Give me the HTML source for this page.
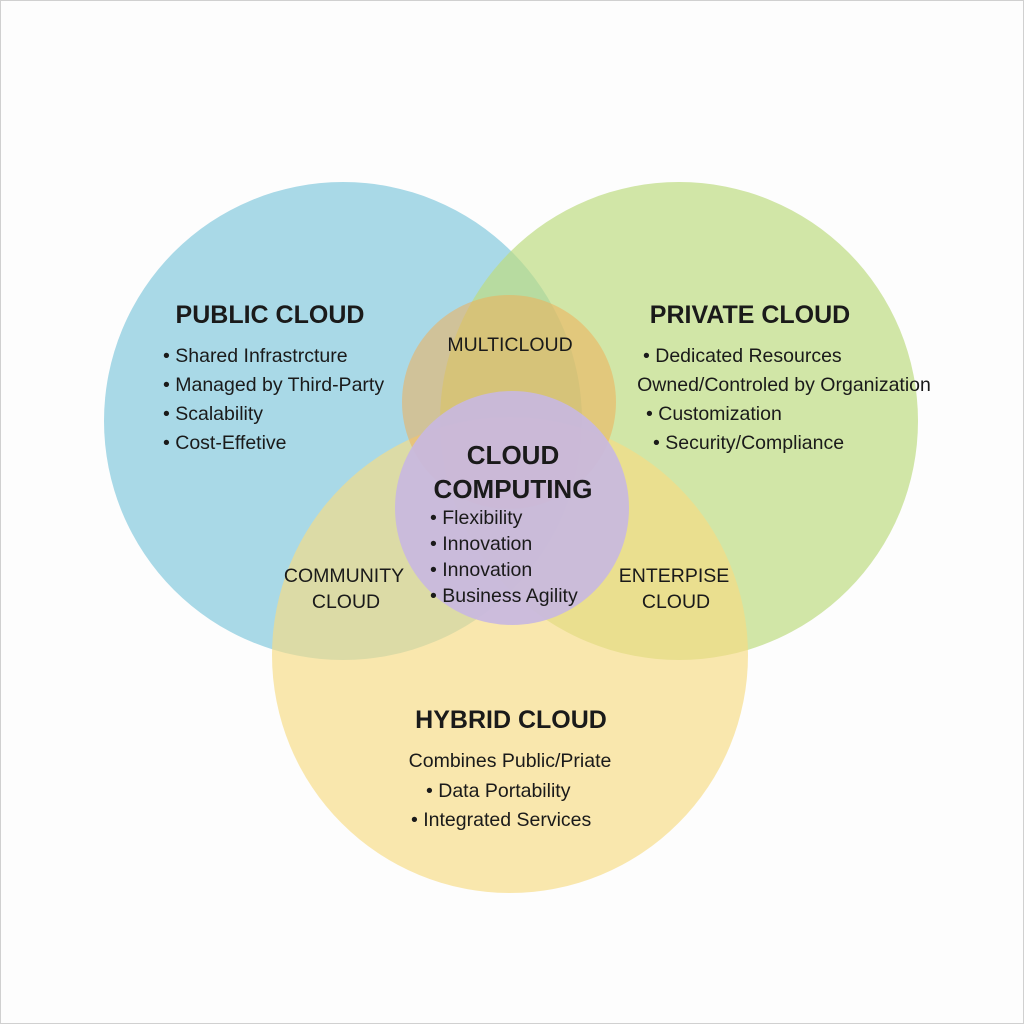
<!DOCTYPE html>
<html><head><style>
body{margin:0;background:#fff}
svg{display:block}
text{font-family:"Liberation Sans",sans-serif;fill:#1a1a1a}
</style></head><body>
<svg width="1024" height="1024" viewBox="0 0 1024 1024">
<rect x="0.5" y="0.5" width="1023" height="1023" fill="#fdfdfd" stroke="#d0d0d0"/>
<circle cx="343" cy="421" r="239" fill="#a9d9e7"/>
<circle cx="679" cy="421" r="239" fill="rgb(190,220,130)" fill-opacity="0.7"/>
<circle cx="510" cy="655" r="238" fill="rgb(248,220,130)" fill-opacity="0.65"/>
<circle cx="509" cy="402" r="107" fill="rgb(240,175,90)" fill-opacity="0.55"/>
<circle cx="512" cy="508" r="117" fill="rgb(200,184,224)" fill-opacity="0.92"/>
<g font-size="19.5">
<text x="270" y="323" text-anchor="middle" font-size="25" font-weight="bold">PUBLIC CLOUD</text>
<text x="163" y="362">• Shared Infrastrcture</text>
<text x="163" y="391">• Managed by Third-Party</text>
<text x="163" y="420">• Scalability</text>
<text x="163" y="449">• Cost-Effetive</text>
<text x="750" y="323" text-anchor="middle" font-size="25" font-weight="bold">PRIVATE CLOUD</text>
<text x="643" y="362">• Dedicated Resources</text>
<text x="784" y="391" text-anchor="middle">Owned/Controled by Organization</text>
<text x="646" y="420">• Customization</text>
<text x="653" y="449">• Security/Compliance</text>
<text x="510" y="351" text-anchor="middle">MULTICLOUD</text>
<text x="513" y="464" text-anchor="middle" font-size="26" font-weight="bold">CLOUD</text>
<text x="513" y="498" text-anchor="middle" font-size="26" font-weight="bold">COMPUTING</text>
<text x="430" y="524">• Flexibility</text>
<text x="430" y="550">• Innovation</text>
<text x="430" y="576">• Innovation</text>
<text x="430" y="602">• Business Agility</text>
<text x="344" y="582" text-anchor="middle">COMMUNITY</text>
<text x="346" y="608" text-anchor="middle">CLOUD</text>
<text x="674" y="582" text-anchor="middle">ENTERPISE</text>
<text x="676" y="608" text-anchor="middle">CLOUD</text>
<text x="511" y="728" text-anchor="middle" font-size="25" font-weight="bold">HYBRID CLOUD</text>
<text x="510" y="767" text-anchor="middle">Combines Public/Priate</text>
<text x="426" y="797">• Data Portability</text>
<text x="411" y="826">• Integrated Services</text>
</g>
</svg>
</body></html>
